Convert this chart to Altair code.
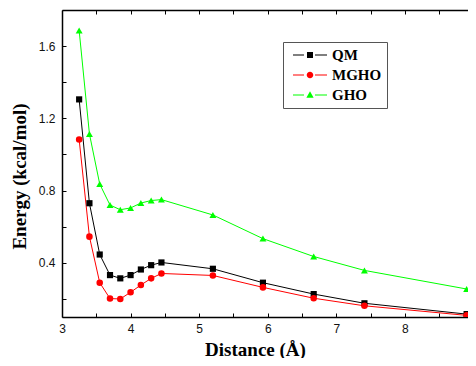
import altair as alt
import pandas as pd

distance = [3.25, 3.4, 3.55, 3.7, 3.85, 4.0, 4.15, 4.3, 4.45, 5.2, 5.93, 6.67, 7.41, 8.9]
qm = [1.305, 0.73, 0.446, 0.332, 0.314, 0.332, 0.363, 0.387, 0.402, 0.367, 0.29, 0.227, 0.176, 0.116]
mgho = [1.083, 0.545, 0.29, 0.202, 0.2, 0.237, 0.277, 0.314, 0.341, 0.33, 0.264, 0.204, 0.162, 0.109]
gho = [1.687, 1.114, 0.836, 0.72, 0.694, 0.704, 0.731, 0.745, 0.75, 0.665, 0.534, 0.435, 0.358, 0.255]

series_names = ["QM", "MGHO", "GHO"]
series_colors = ["#000000", "#ff0000", "#00ff00"]
marker_shapes = ["square", "circle", "triangle-up"]
marker_sizes = [38, 48, 60]
x_ticks = [3, 3.5, 4, 4.5, 5, 5.5, 6, 6.5, 7, 7.5, 8, 8.5]
y_ticks = [0.2, 0.4, 0.6, 0.8, 1.0, 1.2, 1.4, 1.6]

rows = []
for name, vals in zip(series_names, [qm, mgho, gho]):
    for d, v in zip(distance, vals):
        rows.append({"Distance": d, "Energy": v, "Series": name})
df = pd.DataFrame(rows)

W, H = 406, 307

# legend glyphs: line - marker - line (units of r = sqrt(size)/2 = 7 px)
seg = "M-0.43,-0.07H1.14V0.07H-0.43Z M2.71,-0.07H4.43V0.07H2.71Z "
legend_paths = [
    seg + "M1.57,-0.43H2.43V0.43H1.57Z",
    seg + "M1.53,0A0.47,0.47 0 1,0 2.47,0A0.47,0.47 0 1,0 1.53,0Z",
    seg + "M2.0,-0.55L2.52,0.38H1.48Z",
]

xscale = alt.Scale(domain=[3, 8.92], nice=False, zero=False)
yscale = alt.Scale(domain=[0.1, 1.8], nice=False, zero=False)
cscale = alt.Scale(domain=series_names, range=series_colors)

x_main_axis = alt.Axis(
    orient="top", offset=-H, values=x_ticks,
    labelExpr="(datum.value % 1 == 0) ? datum.value : ''",
    tickSize=4, tickColor="#000", domainColor="#000", domainWidth=1.5, tickWidth=1,
    labelBaseline="top", labelPadding=-10, labelFont="Liberation Sans", labelFontSize=12,
    labelColor="#111", labelFlush=False, labelOverlap=False, grid=False,
    title="Distance (Å)", titleFont="Liberation Serif", titleFontWeight="bold",
    titleFontSize=19, titleX=193, titleY=38, titleBaseline="alphabetic",
    titleAlign="center", titleColor="#000",
)
y_main_axis = alt.Axis(
    orient="left", values=y_ticks,
    labelExpr="indexof(['0.4','0.8','1.2','1.6'], format(datum.value, '.1f')) >= 0 ? format(datum.value, '.1f') : ''",
    ticks=False, domainColor="#000", domainWidth=1.5,
    labelAlign="right", labelBaseline="middle", labelPadding=7,
    labelFont="Liberation Sans", labelFontSize=12, labelColor="#111",
    labelFlush=False, labelOverlap=False, grid=False,
    title="Energy (kcal/mol)", titleFont="Liberation Serif", titleFontWeight="bold",
    titleFontSize=19, titleAngle=270, titleX=-37, titleY=166,
    titleBaseline="alphabetic", titleAlign="center", titleColor="#000",
)
x_top_axis = alt.Axis(
    orient="bottom", offset=-H, values=x_ticks, labels=False, title=None,
    tickSize=4, tickColor="#000", domainColor="#000", domainWidth=1.5, grid=False,
)
y_tick_axis = alt.Axis(
    orient="right", offset=-W, values=y_ticks, labels=False, title=None,
    tickSize=4, tickColor="#000", domain=False, grid=False,
)

lines = alt.Chart(df).mark_line(strokeWidth=1).encode(
    x=alt.X("Distance:Q", scale=xscale, axis=x_main_axis),
    y=alt.Y("Energy:Q", scale=yscale, axis=y_main_axis),
    color=alt.Color("Series:N", scale=cscale, legend=None),
    detail="Series:N",
    order=alt.Order("Distance:Q"),
)

points = alt.Chart(df).mark_point(filled=True, opacity=1, clip=True).encode(
    x=alt.X("Distance:Q", scale=xscale, axis=x_top_axis),
    y=alt.Y("Energy:Q", scale=yscale, axis=y_tick_axis),
    color=alt.Color("Series:N", scale=cscale, legend=None),
    shape=alt.Shape("Series:N", scale=alt.Scale(domain=series_names, range=marker_shapes), legend=None),
    size=alt.Size("Series:N", scale=alt.Scale(domain=series_names, range=marker_sizes), legend=None),
)

legend_props = dict(
    title=None, orient="none", legendX=221, legendY=32, padding=5,
    strokeColor="#555", labelFont="Liberation Serif", labelFontWeight="bold",
    labelFontSize=15, labelColor="#000", labelOffset=28, symbolSize=196,
    rowPadding=4, symbolOpacity=1,
)

legend_layer = alt.Chart(df).mark_point(filled=True, opacity=0, size=196).encode(
    x=alt.X("Distance:Q", scale=xscale, axis=None),
    y=alt.Y("Energy:Q", scale=yscale, axis=None),
    color=alt.Color("Series:N", scale=cscale, legend=alt.Legend(**legend_props)),
    shape=alt.Shape("Series:N", scale=alt.Scale(domain=series_names, range=legend_paths),
                    legend=alt.Legend(**legend_props)),
)

chart = alt.layer(lines, points, legend_layer).resolve_scale(
    shape="independent", color="independent", size="independent"
).properties(
    width=W, height=H,
    padding={"left": 54, "top": 2, "right": 0, "bottom": 41},
    autosize=alt.AutoSizeParams(type="none"),
    background="#ffffff",
).configure_view(stroke=None)

chart.save("out.html", embed_options={"renderer": "svg", "actions": False})
